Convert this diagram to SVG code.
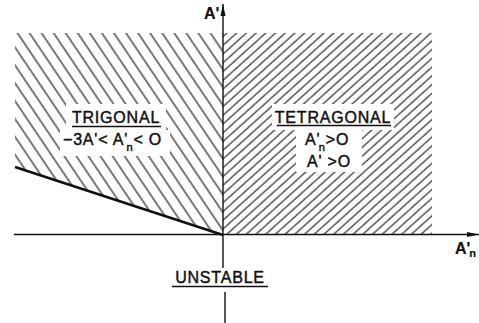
<svg xmlns="http://www.w3.org/2000/svg" width="479" height="323" viewBox="0 0 479 323">
<style>
text{font-family:"Liberation Sans",Arial,sans-serif;fill:#111;stroke:#111;stroke-width:0.45;}
.lbl{font-size:16px;letter-spacing:0.8px;}
.ax{font-size:16px;font-weight:bold;stroke-width:0.2;}
.sub{font-size:11px;}
.uline{stroke:#111;stroke-width:1.3;}
.axis{stroke:#111;stroke-width:1.4;fill:none;}
.clear{fill:#fff;stroke:none;}
</style>
<defs>
<pattern id="hatchL" patternUnits="userSpaceOnUse" width="10" height="20" patternTransform="translate(15,33) rotate(-34)">
<line x1="2" y1="-5" x2="2" y2="25" stroke="#000" stroke-width="1.05"/>
</pattern>
<pattern id="hatchR" patternUnits="userSpaceOnUse" width="6.5" height="20" patternTransform="translate(223,235) rotate(48)">
<line x1="2" y1="-5" x2="2" y2="25" stroke="#000" stroke-width="1"/>
</pattern>
<marker id="arr" viewBox="0 0 12 6" refX="12" refY="3" markerWidth="12" markerHeight="6" markerUnits="userSpaceOnUse" orient="auto">
<path d="M0,0.5 L12,3 L0,5.5 Z" fill="#111"/>
</marker>
</defs>
<rect width="479" height="323" fill="#fff"/>

<g id="region-trigonal">
<polygon points="15,33 223,33 223,235 15,167" fill="url(#hatchL)"/>
<rect class="clear" x="66" y="104" width="100" height="26"/>
<rect class="clear" x="60" y="130" width="110" height="26"/>
<line x1="15" y1="167" x2="223" y2="235" stroke="#111" stroke-width="2.6"/>
<text class="lbl" x="116" y="123" text-anchor="middle">TRIGONAL</text>
<line class="uline" x1="72" y1="126.5" x2="161" y2="126.5"/>
<text class="lbl" x="63" y="145">−3A'&lt; A'<tspan class="sub" dx="-1.5" dy="6">n</tspan><tspan dy="-6">&lt; O</tspan></text>
</g>

<g id="region-tetragonal">
<polygon points="223,33 432,33 432,235 223,235" fill="url(#hatchR)"/>
<rect class="clear" x="272" y="104" width="122" height="26"/>
<rect class="clear" x="296" y="130" width="66" height="42"/>
<text class="lbl" x="333" y="123" text-anchor="middle">TETRAGONAL</text>
<line class="uline" x1="277" y1="125.5" x2="391" y2="125.5"/>
<text class="lbl" x="305" y="145">A'<tspan class="sub" dx="-1.5" dy="6">n</tspan><tspan dy="-6">&gt;O</tspan></text>
<text class="lbl" x="307" y="167">A' &gt;O</text>
</g>

<g id="region-unstable">
<text class="lbl" x="220" y="283" text-anchor="middle">UNSTABLE</text>
<line class="uline" x1="172" y1="286.5" x2="268" y2="286.5"/>
</g>

<g id="axes">
<line class="axis" x1="14" y1="234.5" x2="479" y2="234.5" marker-end="url(#arr)"/>
<line class="axis" x1="223" y1="268" x2="223" y2="4" marker-end="url(#arr)"/>
<line class="axis" x1="225" y1="292" x2="225" y2="323"/>
<text class="ax" x="204" y="19">A'</text>
<text class="ax" x="455" y="254">A'<tspan class="sub" font-weight="bold" dx="-1" dy="3">n</tspan></text>
</g>
</svg>
